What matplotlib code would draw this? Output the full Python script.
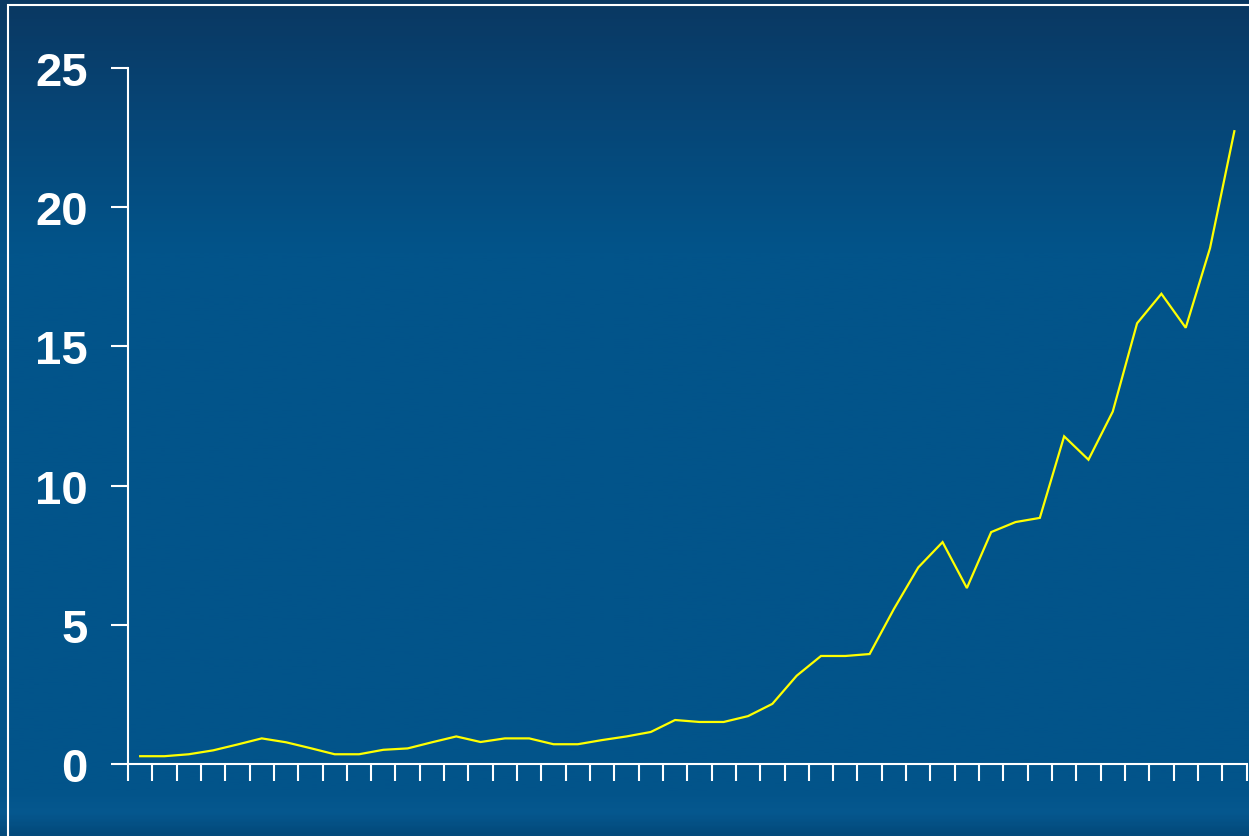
import numpy as np
import matplotlib
matplotlib.use("Agg")
import matplotlib.pyplot as plt
from matplotlib.patches import Rectangle
from matplotlib.colors import LinearSegmentedColormap

# Data (46 periods)
values = [0.28, 0.28, 0.35, 0.49, 0.70, 0.92, 0.78, 0.57, 0.35, 0.35,
          0.51, 0.56, 0.78, 0.99, 0.79, 0.92, 0.92, 0.71, 0.71, 0.86,
          0.99, 1.15, 1.58, 1.51, 1.51, 1.72, 2.16, 3.17, 3.88, 3.88,
          3.95, 5.57, 7.06, 7.97, 6.32, 8.33, 8.69, 8.84, 11.77, 10.93,
          12.66, 15.83, 16.89, 15.67, 18.53, 22.73]
y_ticks = [0, 5, 10, 15, 20, 25]

W, H = 1249, 837
fig = plt.figure(figsize=(W / 100, H / 100), dpi=100)

# background gradient
bg = fig.add_axes([0, 0, 1, 1], zorder=0)
bg.set_axis_off()
stops = [(0.0, "#0a3862"), (0.12, "#074474"), (0.30, "#02548a"),
         (0.95, "#02548a"), (0.975, "#06588f"), (1.0, "#034a7c")]
cmap = LinearSegmentedColormap.from_list("bgc", stops)
grad = np.linspace(0, 1, 400).reshape(-1, 1)
bg.imshow(grad, aspect="auto", cmap=cmap, extent=[0, 1, 0, 1], origin="upper")
bg.set_xlim(0, 1)
bg.set_ylim(0, 1)

# frame line (top-left)
fig.add_artist(Rectangle((8 / W, -0.05), 1.2, (H - 6) / H + 0.05,
                         transform=fig.transFigure, fill=False,
                         edgecolor="white", linewidth=1.5, zorder=1))

left, right = 128 / W, 1246.5 / W
bottom, top = (H - 765) / H, (H - 69) / H
ax = fig.add_axes([left, bottom, right - left, top - bottom], zorder=2)
ax.patch.set_alpha(0)

n = len(values)
x = np.arange(n) + 0.5
ax.plot(x, values, color="#ffff00", linewidth=1.6, solid_joinstyle="miter", clip_on=False)

ax.set_xlim(0, n)
ax.set_ylim(0, 25)
ax.set_xticks(np.arange(n + 1))
ax.set_xticklabels([])
ax.set_yticks(y_ticks)
ax.set_yticklabels([str(v) for v in y_ticks])

for s in ["top", "right"]:
    ax.spines[s].set_visible(False)
for s in ["left", "bottom"]:
    ax.spines[s].set_color("white")
    ax.spines[s].set_linewidth(1.5)

ax.tick_params(axis="both", direction="out", color="white", width=1.5)
ax.tick_params(axis="y", length=12, pad=17, labelcolor="white", labelsize=34)
ax.tick_params(axis="x", length=12.3)
for lab in ax.get_yticklabels():
    lab.set_fontfamily("Liberation Sans")
    lab.set_fontweight("bold")

fig.savefig("out.png", dpi=100)
